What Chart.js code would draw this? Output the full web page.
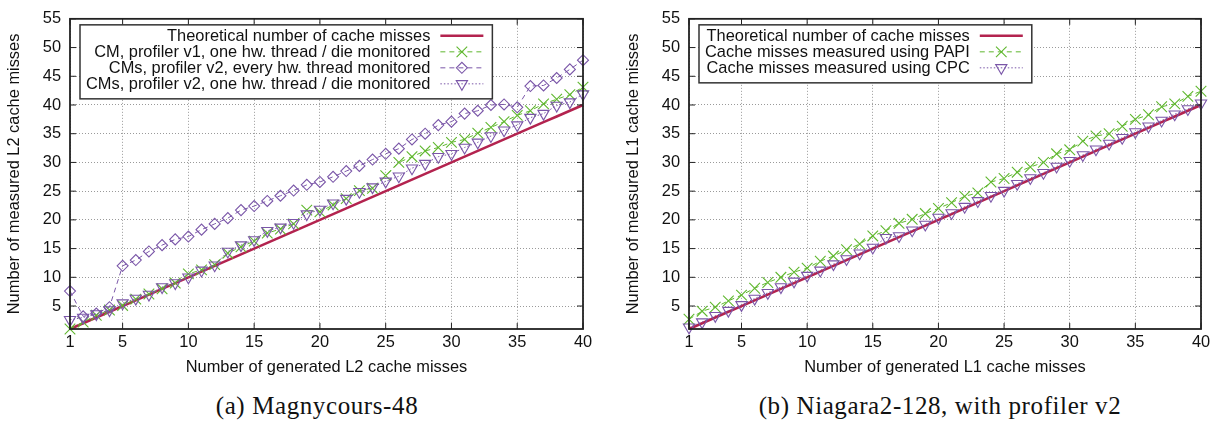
<!DOCTYPE html>
<html lang="en">
<head>
    <meta charset="UTF-8">
    <title>Cache misses</title>
    <style>
        body {
            margin: 0;
            background: #fff;
            width: 1220px;
            height: 423px;
            position: relative;
            overflow: hidden;
        }

        canvas {
            position: absolute;
            top: 0;
        }

        .caption {
            position: absolute;
            top: 392px;
            transform: translateX(-50%);
            font-family: "Liberation Serif", serif;
            font-size: 25px;
            letter-spacing: 0.6px;
            white-space: nowrap;
            color: #111;
        }
    </style>
</head>
<body>
    <canvas id="chartA" width="610" height="390" style="left:0"></canvas>
    <canvas id="chartB" width="610" height="390" style="left:610px"></canvas>
    <div class="caption" style="left:317px">(a) Magnycours-48</div>
    <div class="caption" style="left:940px">(b) Niagara2-128, with profiler v2</div>

    <script src="https://cdn.jsdelivr.net/npm/chart.js"></script>
    <script>
        // x values (generated cache misses)
        var generated = [1, 2, 3, 4, 5, 6, 7, 8, 9, 10, 11, 12, 13, 14, 15, 16, 17, 18, 19, 20,
                         21, 22, 23, 24, 25, 26, 27, 28, 29, 30, 31, 32, 33, 34, 35, 36, 37, 38, 39, 40];
        var theoretical = [1, 2, 3, 4, 5, 6, 7, 8, 9, 10, 11, 12, 13, 14, 15, 16, 17, 18, 19, 20,
                           21, 22, 23, 24, 25, 26, 27, 28, 29, 30, 31, 32, 33, 34, 35, 36, 37, 38, 39, 40];

        // (a) Magnycours-48
        var cmV1 = [1.0, 2.2, 3.4, 4.3, 5.1, 6.2, 7.1, 8.0, 9.0, 10.6, 11.3, 12.2, 14.2, 15.3, 16.3, 17.7, 18.4, 19.3, 21.7, 21.4,
                    22.6, 23.7, 25.1, 25.5, 27.7, 30.0, 31.0, 32.0, 32.6, 33.5, 34.0, 35.1, 36.1, 37.1, 38.2, 39.0, 40.2, 41.0, 41.8, 43.1];
        var cmsV2Every = [7.6, 3.2, 3.7, 4.8, 12.0, 13.0, 14.5, 15.6, 16.6, 17.1, 18.3, 19.3, 20.3, 21.7, 22.4, 23.3, 24.2, 25.1, 26.1, 26.6,
                          27.5, 28.5, 29.4, 30.5, 31.5, 32.4, 34.0, 35.0, 36.5, 37.1, 38.5, 39.0, 40.0, 40.1, 39.6, 43.3, 43.4, 44.7, 46.2, 47.8];
        var cmsV2One = [2.6, 3.0, 3.6, 4.3, 5.5, 6.3, 7.0, 8.3, 9.0, 10.0, 11.2, 12.1, 14.5, 15.6, 16.5, 18.1, 18.7, 19.5, 21.0, 21.8,
                        22.9, 23.7, 24.9, 25.7, 26.7, 27.6, 29.0, 29.8, 31.0, 31.5, 32.6, 33.5, 34.6, 35.6, 36.5, 37.8, 38.5, 39.9, 40.5, 41.9];

        // (b) Niagara2-128
        var papi = [2.7, 4.1, 4.8, 5.9, 6.9, 8.1, 9.1, 10.0, 10.9, 11.6, 12.8, 13.7, 14.8, 15.8, 17.2, 18.1, 19.4, 20.1, 21.1, 22.0,
                    23.0, 24.1, 24.7, 26.6, 27.2, 28.3, 29.2, 30.0, 31.5, 32.2, 33.7, 34.6, 35.0, 36.3, 37.5, 38.3, 39.7, 40.2, 41.5, 42.4];
        var cpc = [1.3, 2.2, 3.3, 4.2, 5.2, 6.3, 7.3, 8.3, 9.3, 10.3, 11.2, 12.3, 13.2, 14.2, 15.2, 16.9, 17.2, 18.2, 19.2, 20.4,
                   21.2, 22.3, 23.3, 24.2, 25.1, 26.3, 27.3, 28.2, 29.3, 30.3, 31.3, 32.3, 33.3, 34.3, 35.3, 36.3, 37.3, 38.4, 39.3, 40.3];

        var xTicks = [1, 5, 10, 15, 20, 25, 30, 35, 40];
        var yTicks = [5, 10, 15, 20, 25, 30, 35, 40, 45, 50, 55];

        var labelsA = [
            'Theoretical number of cache misses',
            'CM, profiler v1, one hw. thread / die monitored',
            'CMs, profiler v2, every hw. thread monitored',
            'CMs, profiler v2, one hw. thread / die monitored'
        ];
        var labelsB = [
            'Theoretical number of cache misses',
            'Cache misses measured using PAPI',
            'Cache misses measured using CPC'
        ];

        var RED = '#b3234f';
        var GREEN = '#5fb72e';
        var PURPLE = '#7a56a8';
        var FONT = '"Liberation Sans", Arial, sans-serif';
        var FONT_SIZE = 16.4;

        function points(ys) {
            return ys.map(function (v, i) { return {x: generated[i], y: v}; });
        }

        function theoryDataset(label) {
            return {
                label: label, data: points(theoretical), borderColor: RED, borderWidth: 2.5,
                pointRadius: 0, order: 9, clip: false
            };
        }

        function markDataset(label, ys, color, dash, style, radius, order) {
            return {
                label: label, data: points(ys), borderColor: color, borderWidth: 1, borderDash: dash,
                pointStyle: style, pointRadius: radius, pointBorderColor: color, pointBorderWidth: 1.1,
                pointBackgroundColor: 'rgba(0,0,0,0)', pointRotation: style === 'triangle' ? 180 : 0,
                order: order, clip: false
            };
        }

        // gnuplot-like border with inward ticks
        var framePlugin = {
            id: 'frame',
            afterDraw: function (chart) {
                var ctx = chart.ctx, a = chart.chartArea;
                var xs = chart.scales.x, ys = chart.scales.y;
                ctx.save();
                ctx.strokeStyle = '#222';
                ctx.lineWidth = 1;
                ctx.beginPath();
                xs.ticks.forEach(function (t) {
                    var px = xs.getPixelForValue(t.value);
                    ctx.moveTo(px, a.bottom); ctx.lineTo(px, a.bottom - 6);
                    ctx.moveTo(px, a.top); ctx.lineTo(px, a.top + 6);
                });
                ys.ticks.forEach(function (t) {
                    var py = ys.getPixelForValue(t.value);
                    ctx.moveTo(a.left, py); ctx.lineTo(a.left + 6, py);
                    ctx.moveTo(a.right, py); ctx.lineTo(a.right - 6, py);
                });
                ctx.stroke();
                ctx.lineWidth = 1.8;
                ctx.strokeRect(a.left, a.top, a.right - a.left, a.bottom - a.top);
                ctx.restore();
            }
        };

        function drawMarker(ctx, style, x, y, r) {
            ctx.beginPath();
            if (style === 'crossRot') {
                var d = r * Math.SQRT1_2;
                ctx.moveTo(x - d, y - d); ctx.lineTo(x + d, y + d);
                ctx.moveTo(x + d, y - d); ctx.lineTo(x - d, y + d);
            } else if (style === 'rectRot') {
                ctx.moveTo(x - r, y); ctx.lineTo(x, y - r); ctx.lineTo(x + r, y); ctx.lineTo(x, y + r);
                ctx.closePath();
            } else if (style === 'triangle') {
                var s = Math.sin(Math.PI / 3) * r;
                ctx.moveTo(x, y + r); ctx.lineTo(x - s, y - r / 2); ctx.lineTo(x + s, y - r / 2);
                ctx.closePath();
            }
            ctx.stroke();
        }

        // legend box: right-aligned text, sample on the right
        var boxLegend = {
            id: 'boxLegend',
            afterDraw: function (chart) {
                var ctx = chart.ctx, a = chart.chartArea;
                var sets = chart.data.datasets;
                ctx.save();
                ctx.font = FONT_SIZE + 'px ' + FONT;
                var maxW = 0;
                sets.forEach(function (d) { maxW = Math.max(maxW, ctx.measureText(d.label).width); });
                var left = a.left + 10, top = a.top + 6;
                var textRight = left + 6 + maxW;
                var s1 = textRight + 10, s2 = s1 + 43;
                var w = s2 + 9 - left, h = 16 * sets.length + 10;
                ctx.fillStyle = '#fff';
                ctx.fillRect(left, top, w, h);
                ctx.strokeStyle = '#333';
                ctx.lineWidth = 1.5;
                ctx.strokeRect(left, top, w, h);
                sets.forEach(function (d, i) {
                    var cy = top + 11 + 16 * i;
                    ctx.fillStyle = '#111';
                    ctx.textAlign = 'right';
                    ctx.textBaseline = 'middle';
                    ctx.fillText(d.label, textRight, cy + 1);
                    ctx.strokeStyle = d.borderColor;
                    ctx.lineWidth = d.borderWidth;
                    ctx.setLineDash(d.borderDash || []);
                    ctx.beginPath();
                    ctx.moveTo(s1, cy); ctx.lineTo(s2, cy);
                    ctx.stroke();
                    ctx.setLineDash([]);
                    if (d.pointRadius) {
                        ctx.lineWidth = d.pointBorderWidth;
                        drawMarker(ctx, d.pointStyle, (s1 + s2) / 2, cy, d.pointRadius);
                    }
                });
                ctx.restore();
            }
        };

        function makeChart(id, datasets, xTitle, yTitle, yWidth, padRight, yTitlePad) {
            var tickFont = {family: FONT, size: FONT_SIZE};
            return new Chart(document.getElementById(id), {
                type: 'line',
                data: {datasets: datasets},
                options: {
                    responsive: false,
                    animation: false,
                    devicePixelRatio: 1,
                    layout: {padding: {top: 14, right: padRight, bottom: 0, left: 0}},
                    plugins: {legend: {display: false}, tooltip: {enabled: false}},
                    scales: {
                        x: {
                            type: 'linear', min: 1, max: 40,
                            afterBuildTicks: function (s) { s.ticks = xTicks.map(function (v) { return {value: v}; }); },
                            afterFit: function (s) { s.height = 61; },
                            grid: {color: '#9a9a9a', lineWidth: 1, drawTicks: false},
                            border: {display: false, dash: [1, 2]},
                            ticks: {font: tickFont, color: '#111', padding: 4, maxRotation: 0},
                            title: {display: true, text: xTitle, font: tickFont, color: '#111', padding: {top: 0, bottom: 13}}
                        },
                        y: {
                            type: 'linear', min: 1, max: 55,
                            afterBuildTicks: function (s) { s.ticks = yTicks.map(function (v) { return {value: v}; }); },
                            afterFit: function (s) { s.width = yWidth; },
                            grid: {color: '#9a9a9a', lineWidth: 1, drawTicks: false},
                            border: {display: false, dash: [1, 2]},
                            ticks: {font: tickFont, color: '#111', padding: 9},
                            title: {display: true, text: yTitle, font: tickFont, color: '#111', padding: {top: yTitlePad, bottom: 0}}
                        }
                    }
                },
                plugins: [framePlugin, boxLegend]
            });
        }

        makeChart('chartA', [
            theoryDataset(labelsA[0]),
            markDataset(labelsA[1], cmV1, GREEN, [5, 4], 'crossRot', 7.5, 3),
            markDataset(labelsA[2], cmsV2Every, PURPLE, [5, 4], 'rectRot', 5.5, 2),
            markDataset(labelsA[3], cmsV2One, PURPLE, [1.5, 2], 'triangle', 6.5, 1)
        ], 'Number of generated L2 cache misses', 'Number of measured L2 cache misses', 70, 27, 4.4);

        makeChart('chartB', [
            theoryDataset(labelsB[0]),
            markDataset(labelsB[1], papi, GREEN, [5, 4], 'crossRot', 7.5, 2),
            markDataset(labelsB[2], cpc, PURPLE, [1.5, 2], 'triangle', 6.5, 1)
        ], 'Number of generated L1 cache misses', 'Number of measured L1 cache misses', 79, 19, 13.4);
    </script>
</body>
</html>
